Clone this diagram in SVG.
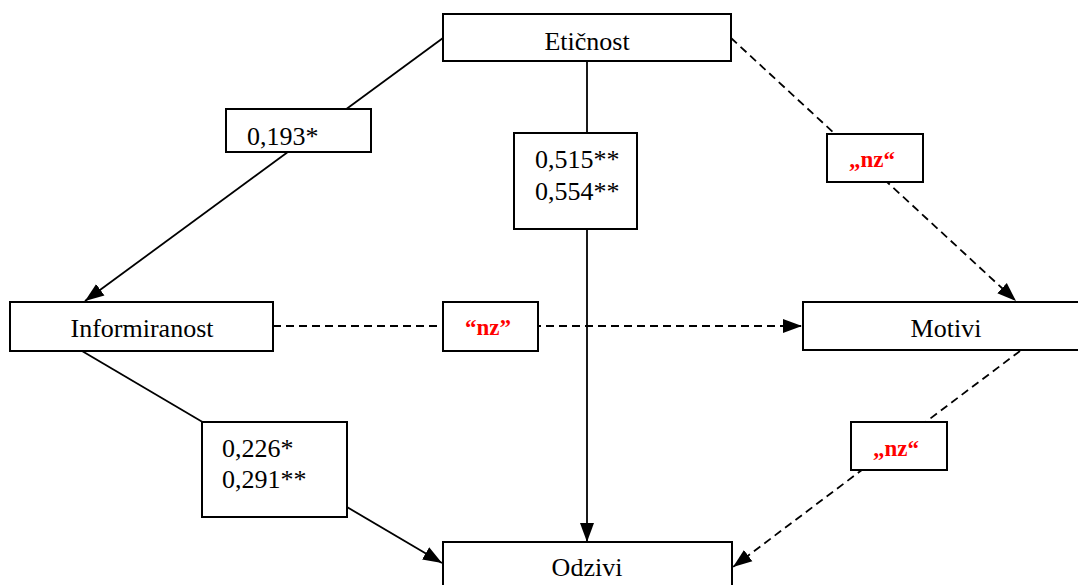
<svg xmlns="http://www.w3.org/2000/svg" width="1078" height="585" viewBox="0 0 1078 585">
<style>
.box{fill:#fff;stroke:#000;stroke-width:2}
.ln{fill:none;stroke:#000;stroke-width:1.8}
.dash{stroke-dasharray:8 5}
text{font-family:'Liberation Serif','Times New Roman','DejaVu Serif',serif}
.t{font-size:26px;fill:#000}
.r{font-size:23px;font-weight:bold;fill:#ff0000}
</style>
<defs>
<marker id="ah" markerUnits="userSpaceOnUse" markerWidth="20" markerHeight="16" refX="19" refY="8" orient="auto">
<path d="M0,1 L19,8 L0,15 Z" fill="#000"/>
</marker>
</defs>
<rect width="1078" height="585" fill="#fff"/>
<g id="connectors">
<line class="ln" x1="443" y1="38" x2="85" y2="301" marker-end="url(#ah)"/>
<line class="ln" x1="587" y1="61" x2="587" y2="542" marker-end="url(#ah)"/>
<line class="ln dash" x1="731" y1="38" x2="1016" y2="301" marker-end="url(#ah)"/>
<line class="ln dash" x1="273" y1="326" x2="802" y2="326" marker-end="url(#ah)"/>
<line class="ln" x1="82" y1="351" x2="442" y2="563" marker-end="url(#ah)"/>
<line class="ln dash" x1="1020" y1="351" x2="733" y2="567" marker-end="url(#ah)"/>
</g>
<g id="label-193">
<rect class="box" x="226" y="109" width="145" height="43"/>
<text class="t" x="247" y="145">0,193*</text>
</g>
<g id="label-515">
<rect class="box" x="514" y="133" width="123" height="96"/>
<text class="t" x="535" y="168">0,515**</text>
<text class="t" x="535" y="200">0,554**</text>
</g>
<g id="label-226">
<rect class="box" x="202" y="422" width="145" height="95"/>
<text class="t" x="222" y="457">0,226*</text>
<text class="t" x="222" y="488">0,291**</text>
</g>
<g id="label-nz-top">
<rect class="box" x="827" y="134" width="96" height="48"/>
<text class="r" x="872" y="167" text-anchor="middle">„nz“</text>
</g>
<g id="label-nz-mid">
<rect class="box" x="443" y="302" width="95" height="49"/>
<text class="r" x="488" y="335" text-anchor="middle">“nz”</text>
</g>
<g id="label-nz-bottom">
<rect class="box" x="851" y="422" width="96" height="48"/>
<text class="r" x="896" y="456" text-anchor="middle">„nz“</text>
</g>
<g id="eticnost">
<rect class="box" x="443" y="14" width="288" height="47"/>
<text class="t" x="587" y="50" text-anchor="middle">Etičnost</text>
</g>
<g id="informiranost">
<rect class="box" x="10" y="302" width="263" height="49"/>
<text class="t" x="142" y="337" text-anchor="middle">Informiranost</text>
</g>
<g id="motivi">
<rect class="box" x="803" y="302" width="280" height="48"/>
<text class="t" x="946" y="337" text-anchor="middle">Motivi</text>
</g>
<g id="odzivi">
<rect class="box" x="443" y="542" width="289" height="50"/>
<text class="t" x="587" y="576" text-anchor="middle">Odzivi</text>
</g>
</svg>
